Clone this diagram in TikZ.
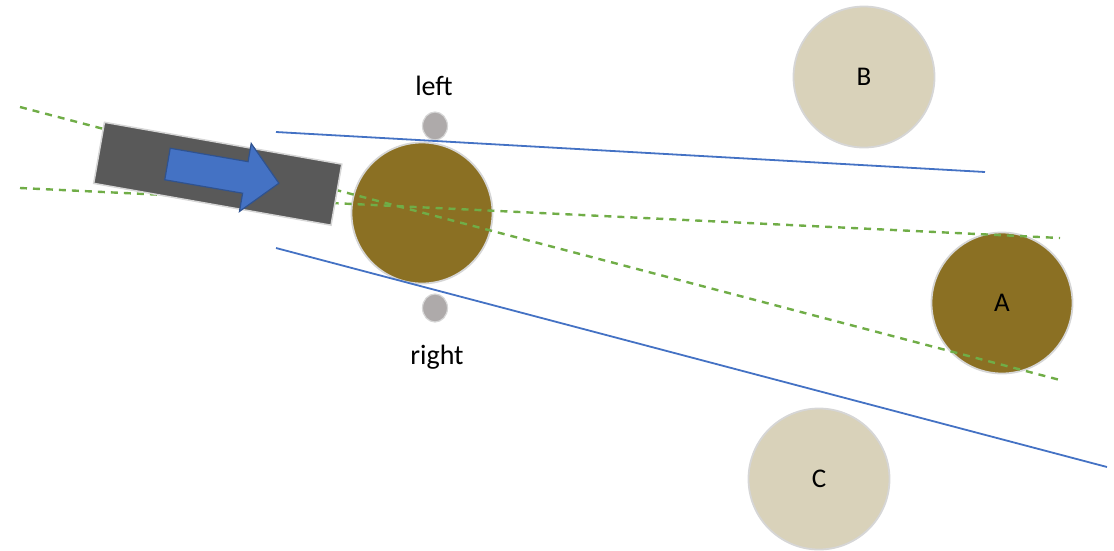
\documentclass[tikz,border=0pt]{standalone}
\usepackage{fontspec}
\setmainfont{Carlito}
\usetikzlibrary{shapes.geometric}
\definecolor{ballbrown}{HTML}{8B7023}
\definecolor{balltan}{HTML}{D9D2BA}
\definecolor{rimgray}{HTML}{D6D6D6}
\definecolor{robotgray}{HTML}{595959}
\definecolor{wheelgray}{HTML}{AEAAAA}
\definecolor{rayblue}{HTML}{4472C4}
\definecolor{arrowedge}{HTML}{2F528F}
\definecolor{aimgreen}{HTML}{70AD47}
\begin{document}
\begin{tikzpicture}[x=1pt,y=-1pt,
  ball/.style={circle, inner sep=0pt, minimum size=141pt, draw=rimgray, line width=1.8pt,
               font=\fontsize{27}{32}\selectfont},
  target/.style={ball, fill=ballbrown},
  other/.style={ball, fill=balltan},
  wheel/.style={ellipse, inner sep=0pt, minimum width=25pt, minimum height=28pt,
                fill=wheelgray, draw=rimgray, line width=1.2pt},
  label/.style={inner sep=0pt, font=\fontsize{28}{33}\selectfont},
  ray/.style={draw=rayblue, line width=1.8pt},
  aim/.style={draw=aimgreen, line width=2.4pt, dash pattern=on 7pt off 6pt},
  robot/.style={rectangle, inner sep=0pt, minimum width=241pt, minimum height=62pt,
                rotate=-10, fill=robotgray, draw=rimgray, line width=1.5pt}]
\useasboundingbox (0,0) rectangle (1114,550);

% balls on the field
\node[other]  (B) at (864,77)  {B};
\node[other]  (C) at (819,479) {C};
\node[target] (A) at (1002,303) {A};
\node[target] (ball) at (422,213) {};

% wheels either side of the held ball
\node[wheel] (wl) at (435,126) {};
\node[wheel] (wr) at (435,308) {};
\node[label] (lefttxt)  at (434,86)  {left};
\node[label] (righttxt) at (437,357) {right};

% green aiming lines
\coordinate (g1s) at (20,107);
\coordinate (g1e) at (1060,380);
\coordinate (g2s) at (20,188);
\coordinate (g2e) at (1060,238);
\draw[aim] (g1s) -- (g1e);
\draw[aim] (g2s) -- (g2e);

% robot body with heading arrow
\node[robot] (body) at (217.75,173.75) {};
\begin{scope}[shift={(167.5,164)}, rotate=-9.8]
  \fill[rayblue, draw=arrowedge, line width=1.2pt, line join=miter]
    (0,-16) -- (79,-16) -- (79,-34.5) -- (113,0) -- (79,34.5) -- (79,16) -- (0,16) -- cycle;
\end{scope}

% blue field-of-view lines
\coordinate (b1s) at (276,132);
\coordinate (b1e) at (985,172);
\coordinate (b2s) at (276,248);
\coordinate (b2e) at (1107,467);
\draw[ray] (b1s) -- (b1e);
\draw[ray] (b2s) -- (b2e);
\end{tikzpicture}
\end{document}
